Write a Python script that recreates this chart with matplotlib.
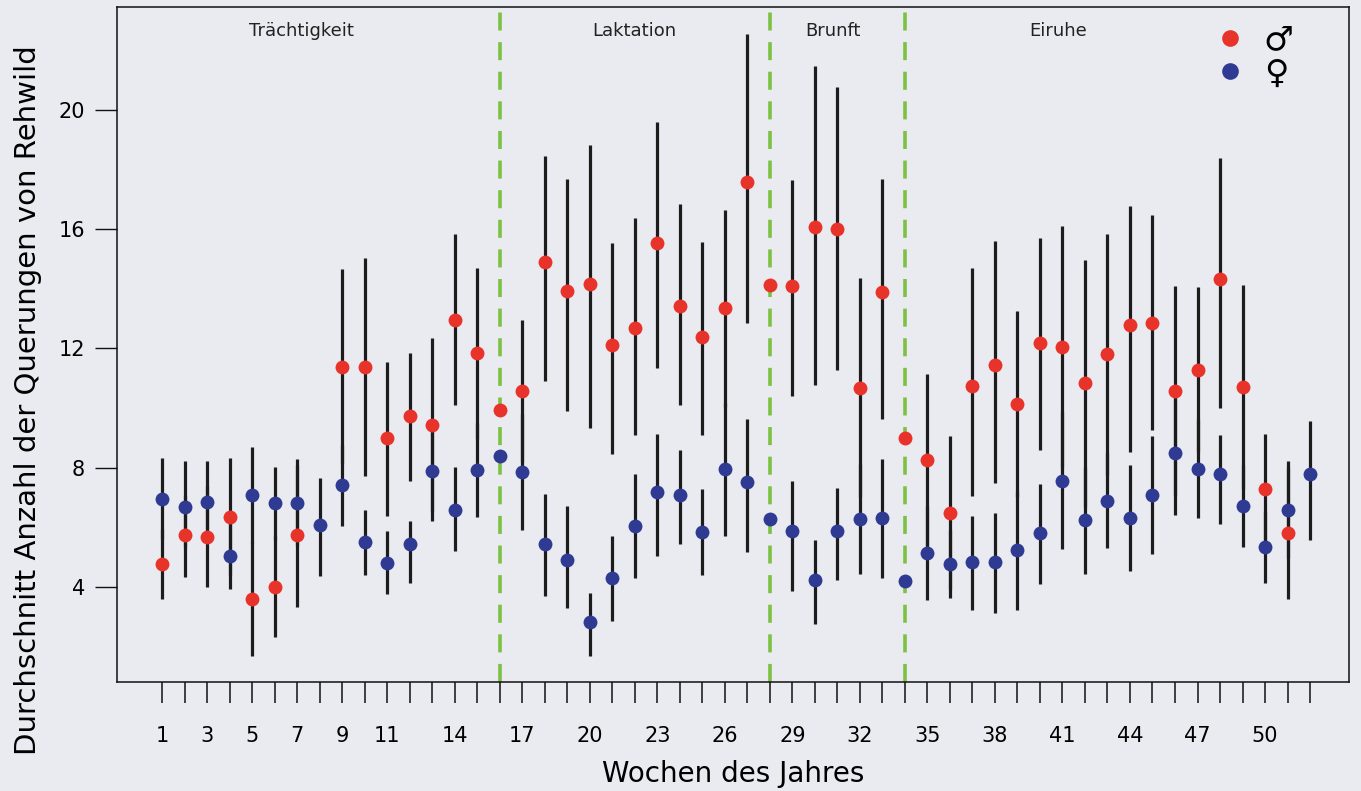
import numpy as np
import matplotlib
matplotlib.use("Agg")
import matplotlib.pyplot as plt
from matplotlib.lines import Line2D

nan = np.nan
weeks = list(range(1, 53))

# Males (red): mean, lower, upper
male_mean = [4.77, 5.73, 5.69, 6.36, 3.61, 4.01, 5.73, nan, 11.39, 11.39,
             8.99, 9.72, 9.42, 12.94, 11.84, 9.95, 10.58, 14.89, 13.92, 14.17,
             12.11, 12.70, 15.52, 13.41, 12.40, 13.34, 17.59, 14.14, 14.10, 16.06,
             16.01, 10.69, 13.89, 8.99, 8.27, 6.49, 10.75, 11.45, 10.13, 12.17,
             12.04, 10.83, 11.80, 12.80, 12.87, 10.57, 11.29, 14.34, 10.71, 7.28,
             5.80, nan]
male_lo = [3.59, 4.35, 3.99, 4.41, 1.69, 2.31, 3.32, nan, 8.11, 7.73,
           6.39, 7.56, 6.50, 10.10, 8.97, nan, 8.19, 10.92, 9.91, 9.32,
           8.46, 9.09, 11.36, 10.10, 9.09, 10.05, 12.86, nan, 10.41, 10.77,
           11.29, 7.03, 9.65, nan, 5.38, 3.93, 7.04, 7.50, 7.01, 8.60,
           7.99, 6.70, 7.75, 8.52, 9.26, 7.04, 8.52, 9.99, 7.30, 5.43,
           3.59, nan]
male_hi = [5.95, 7.10, 7.40, 8.31, 5.50, 5.70, 8.10, nan, 14.67, 15.03,
           11.56, 11.85, 12.34, 15.85, 14.71, nan, 12.97, 18.46, 17.67, 18.81,
           15.52, 16.37, 19.61, 16.86, 15.57, 16.63, 22.53, nan, 17.64, 21.47,
           20.76, 14.35, 17.69, nan, 11.16, 9.05, 14.71, 15.59, 13.25, 15.69,
           16.09, 14.96, 15.85, 16.78, 16.48, 14.10, 14.06, 18.38, 14.12, 9.13,
           8.01, nan]

# Females (blue): mean, lower, upper
female_mean = [6.96, 6.68, 6.84, 5.05, 7.09, 6.81, 6.82, 6.08, 7.41, 5.50,
               4.81, 5.43, 7.88, 6.58, 7.93, 8.38, 7.85, 5.45, 4.91, 2.82,
               4.29, 6.06, 7.18, 7.07, 5.86, 7.95, 7.51, 6.27, 5.88, 4.22,
               5.87, 6.28, 6.32, 4.19, 5.13, 4.77, 4.83, 4.84, 5.23, 5.80,
               7.57, 6.24, 6.90, 6.32, 7.09, 8.49, 7.97, 7.78, 6.71, 5.35,
               6.59, 7.78]
female_lo = [5.60, 5.30, 5.46, 3.95, 5.47, 5.58, 5.36, 4.37, 6.05, 4.39,
             3.77, 4.14, 6.22, 5.21, 6.35, nan, 5.91, 3.71, 3.28, 1.69,
             2.85, 4.29, 5.05, 5.43, 4.39, 5.72, 5.17, nan, 3.87, 2.76,
             4.23, 4.44, 4.29, nan, 3.55, 3.62, 3.23, 3.13, 3.23, 4.09,
             5.26, 4.45, 5.32, 4.55, 5.11, 6.42, 6.32, 6.10, 5.34, 4.14,
             4.97, 5.57]
female_hi = [8.31, 8.22, 8.22, 6.15, 8.71, 8.04, 8.28, 7.66, 8.77, 6.58,
             5.88, 6.23, 9.54, 8.04, 9.51, nan, 9.79, 7.11, 6.71, 3.81,
             5.72, 7.79, 9.14, 8.60, 7.28, 10.18, 9.63, nan, 7.54, 5.56,
             7.33, 8.12, 8.29, nan, 6.71, 5.92, 6.38, 6.49, 7.23, 7.44,
             9.88, 8.03, 8.48, 8.09, 9.07, 10.56, 9.62, 9.09, 8.08, 6.56,
             8.21, 9.56]

phase_bounds = [16, 28, 34]
phase_names = ["Trächtigkeit", "Laktation", "Brunft", "Eiruhe"]
phase_label_x = [7.2, 22.0, 30.8, 40.8]
xtick_labels = [1, 3, 5, 7, 9, 11, 14, 17, 20, 23, 26, 29, 32, 35, 38, 41, 44, 47, 50]
yticks = [4, 8, 12, 16, 20]

RED = "#e8332b"
BLUE = "#2f3b93"
GREEN = "#7cc142"
BG = "#eaebf1"
BAR = "#1c1c1c"

fig = plt.figure(figsize=(13.61, 7.91), dpi=100, facecolor=BG)
ax = fig.add_axes([117/1361, 1-682/791, (1349-117)/1361, (682-7)/791])
ax.set_facecolor(BG)

w = np.array(weeks, dtype=float)
ax.vlines(w, male_lo, male_hi, color=BAR, lw=2.3, zorder=2)
ax.vlines(w, female_lo, female_hi, color=BAR, lw=2.3, zorder=2)

for b in phase_bounds:
    ax.axvline(b, color=GREEN, lw=2.6, ls=(0, (5, 3.2)), zorder=1)

ax.plot(w, male_mean, ls="none", marker="o", ms=10, color=RED, mec="none", zorder=3)
ax.plot(w, female_mean, ls="none", marker="o", ms=10, color=BLUE, mec="none", zorder=3)

ax.set_xlim(-1.0, 53.73)
ax.set_ylim(0.815, 23.45)

ax.set_xticks(weeks)
ax.set_xticklabels([str(x) if x in xtick_labels else "" for x in weeks])
ax.set_yticks(yticks)
ax.tick_params(axis="x", direction="out", length=15, width=1.1, pad=17,
               labelsize=15, color="#111111")
ax.tick_params(axis="y", direction="out", length=16, width=1.0, pad=7,
               labelsize=15, color="#111111")
for s in ax.spines.values():
    s.set_linewidth(1.1)
    s.set_color("#111111")

ax.set_xlabel("Wochen des Jahres", fontsize=20, labelpad=10)
ax.set_ylabel("Durchschnitt Anzahl der Querungen von Rehwild", fontsize=21)
ax.yaxis.set_label_coords(-0.061, 0.418)

for name, xp in zip(phase_names, phase_label_x):
    ax.text(xp, 22.65, name, ha="center", va="center", fontsize=13, color="#222222")

handles = [Line2D([], [], ls="none", marker="o", ms=12, color=RED, mec="none"),
           Line2D([], [], ls="none", marker="o", ms=12, color=BLUE, mec="none")]
leg = ax.legend(handles, ["\u2642", "\u2640"], loc="upper right",
                bbox_to_anchor=(0.974, 1.01), frameon=False, fontsize=24,
                handlelength=1.0, handletextpad=0.5, labelspacing=0.0,
                borderpad=0.2)

fig.savefig("out.png", dpi=100, facecolor=BG)
